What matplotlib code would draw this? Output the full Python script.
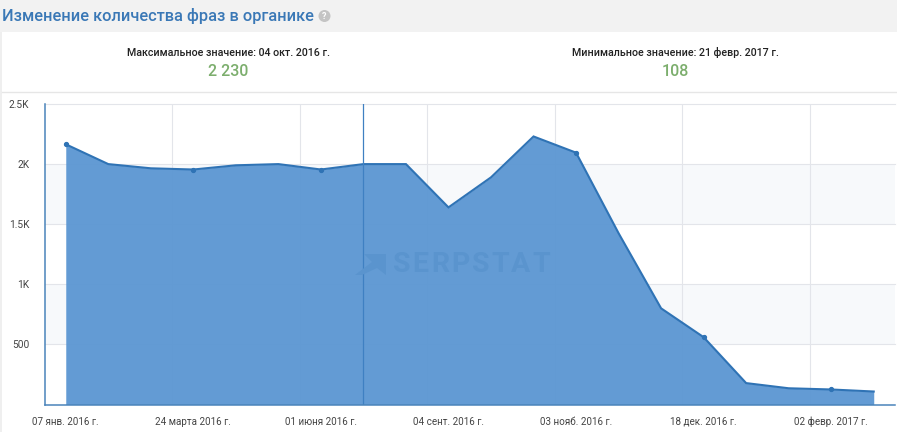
import matplotlib
matplotlib.use("Agg")
import matplotlib.pyplot as plt
from matplotlib.patches import Rectangle, Polygon, Ellipse

plt.rcParams['font.family'] = ['Roboto', 'DejaVu Sans']

# --- data ---
categories = ["07 янв. 2016 г.", "", "", "24 марта 2016 г.", "", "", "01 июня 2016 г.", "", "",
              "04 сент. 2016 г.", "", "", "03 нояб. 2016 г.", "", "", "18 дек. 2016 г.", "", "",
              "02 февр. 2017 г.", ""]
values = [2165, 2000, 1965, 1955, 1990, 2000, 1955, 2000, 2000, 1640,
          1890, 2230, 2095, 1425, 800, 560, 178, 135, 125, 108]
marked = [0, 3, 6, 12, 15, 18]
hover_index = 7
y_ticks = [500, 1000, 1500, 2000, 2500]
y_labels = ["500", "1K", "1.5K", "2K", "2.5K"]
title = "Изменение количества фраз в органике"
max_label, max_value = "Максимальное значение: 04 окт. 2016 г.", "2 230"
min_label, min_value = "Минимальное значение: 21 февр. 2017 г.", "108"
watermark = "SERPSTAT"

W, H = 897, 432
def fx(px): return px / W
def fy(py): return 1 - py / H

BLUE = "#2f73b5"
FILL = "#5e98d3"
GRID = "#e3e5ea"
GREEN = "#7cae6d"

fig = plt.figure(figsize=(W / 100, H / 100), dpi=100, facecolor="white")

# page furniture
fig.add_artist(Rectangle((0, fy(32)), 1, 32 / H, transform=fig.transFigure, fc="#f2f2f2", ec="none"))
fig.add_artist(Rectangle((0, 0), 2 / W, fy(32), transform=fig.transFigure, fc="#efefef", ec="none"))
fig.add_artist(plt.Line2D([fx(2), 1], [fy(91.5)] * 2, color="#e6e6e6", lw=1))

fig.text(fx(2), fy(16), title, fontsize=11.8, fontweight="medium", color="#3a78b6", va="center", ha="left")
fig.add_artist(Ellipse((fx(324.5), fy(16)), 12 / W, 12 / H, transform=fig.transFigure, fc="#c4c4c4", ec="none"))
fig.text(fx(324.5), fy(16.3), "?", fontsize=6.5, color="white", fontweight="bold", ha="center", va="center", zorder=5)

fig.text(fx(228.5), fy(52.5), max_label, fontsize=7.7, fontweight="medium", color="#222222", ha="center", va="center")
fig.text(fx(228.5), fy(71.5), max_value, fontsize=11.5, fontweight="medium", color=GREEN, ha="center", va="center")
fig.text(fx(675), fy(52.5), min_label, fontsize=7.7, fontweight="medium", color="#222222", ha="center", va="center")
fig.text(fx(675), fy(71.5), min_value, fontsize=11.5, fontweight="medium", color=GREEN, ha="center", va="center")

# plot area
left, right, top, bottom = 44.5, 895, 104, 404.5
ax = fig.add_axes([fx(left), fy(bottom), (right - left) / W, (bottom - top) / H])
x = list(range(len(values)))
ax.set_xlim(-0.5, len(values) - 0.5)
ax.set_ylim(0, 2500)
ax.set_facecolor("white")

# alternating bands
for lo, hi in [(500, 1000), (1500, 2000)]:
    ax.axhspan(lo, hi, fc="#f7f9fb", ec="none", zorder=0)

# gridlines between categories
grid_x = [i - 0.5 for i in x if categories[i]][1:]
for g in grid_x:
    ax.axvline(g, color=GRID, lw=0.8, zorder=1)
for t in y_ticks:
    ax.axhline(t, color=GRID, lw=0.8, zorder=1, clip_on=False)

ax.fill_between(x, values, 0, color=FILL, alpha=0.97, lw=0, zorder=2)
ax.plot(x, values, color=BLUE, lw=1.5, zorder=3, solid_joinstyle="miter")
ax.plot([x[i] for i in marked], [values[i] for i in marked], "o", color=BLUE, ms=2.8, zorder=4)
ax.axvline(hover_index, color="#3f80c2", lw=0.9, zorder=3)

for s in ("top", "right"):
    ax.spines[s].set_visible(False)
for s in ("left", "bottom"):
    ax.spines[s].set_color("#4a84ba")
    ax.spines[s].set_linewidth(1.1)
    ax.spines[s].set_zorder(5)

ax.set_xticks([i for i in x if categories[i]])
ax.set_xticklabels([c for c in categories if c], fontsize=7.15, color="#444444")
ax.set_yticks(y_ticks)
ax.set_yticklabels(y_labels, fontsize=7.3, color="#444444")
ax.tick_params(axis="both", length=0)
ax.tick_params(axis="x", pad=8.7)
ax.tick_params(axis="y", pad=11)

# watermark, letter-spaced
WM = "#5a94ce"
fig.add_artist(Polygon([(fx(p), fy(q)) for p, q in [(364, 254), (386, 254), (386, 275), (377, 268), (362, 275), (355, 275), (372, 262)]],
                       closed=True, transform=fig.transFigure, fc=WM, ec="none", zorder=6))
renderer = fig.canvas.get_renderer()
pen = 393.0
for ch in watermark:
    t = fig.text(fx(pen), fy(264.5), ch, fontsize=20.5, fontweight="bold", color=WM, ha="left", va="center", zorder=6)
    pen += t.get_window_extent(renderer).width + 2.2

fig.savefig("out.png", dpi=100)
